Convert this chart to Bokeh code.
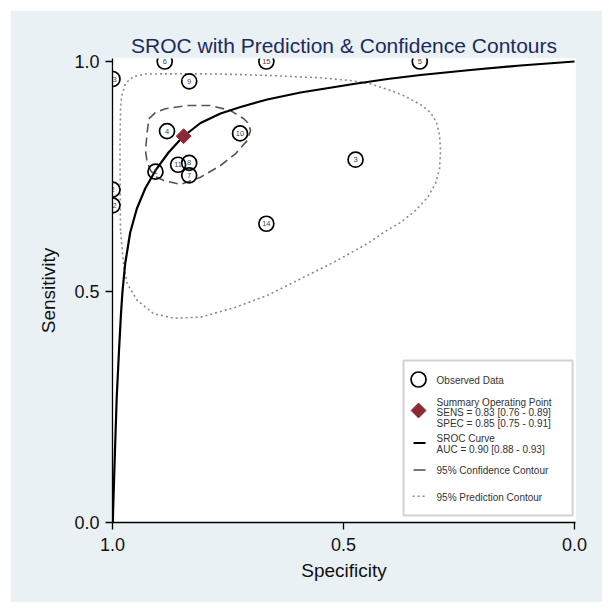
from bokeh.plotting import figure
from bokeh.models import Range1d, FixedTicker, BoxAnnotation, ColumnDataSource
from bokeh.embed import file_html
from bokeh.resources import INLINE
from bokeh.core.properties import value
import math

# ---------------- data ----------------
study_ids = ["1", "2", "3", "4", "5", "6", "7", "8", "9", "10", "11", "12", "13", "14", "15"]
study_spec = [0.907, 1.000, 0.474, 0.882, 0.335, 0.887, 0.834, 0.834, 0.834, 0.724, 0.858, 1.000, 1.000, 0.667, 0.667]
study_sens = [0.761, 0.722, 0.787, 0.849, 1.000, 1.000, 0.753, 0.780, 0.957, 0.844, 0.776, 0.688, 0.962, 0.648, 1.000]

summary_spec = [0.846]
summary_sens = [0.838]

sroc_spec = [0.9994, 0.9978, 0.9946, 0.9909, 0.9859, 0.9816, 0.9784, 0.9725, 0.9617, 0.9472, 0.9292, 0.9069,
             0.8788, 0.8470, 0.8095, 0.7662, 0.7229, 0.6652, 0.5931, 0.4784, 0.4048, 0.3333, 0.2251, 0.1169,
             0.0000]
sroc_sens = [0.0000, 0.0542, 0.1562, 0.2711, 0.3731, 0.4534, 0.5011, 0.5618, 0.6291, 0.6811, 0.7245, 0.7636,
             0.8026, 0.8373, 0.8666, 0.8872, 0.9013, 0.9176, 0.9328, 0.9512, 0.9620, 0.9707, 0.9816, 0.9913,
             1.0000]

conf_spec = [0.9214, 0.9069, 0.8853, 0.8383, 0.7879, 0.7446, 0.7158, 0.7056, 0.7013, 0.7084, 0.7338, 0.7662,
             0.8095, 0.8528, 0.8890, 0.9048, 0.9177, 0.9253, 0.9286, 0.9249, 0.9214]
conf_sens = [0.8757, 0.8894, 0.8974, 0.9046, 0.9046, 0.8937, 0.8757, 0.8655, 0.8503, 0.8286, 0.7998, 0.7744,
             0.7490, 0.7332, 0.7419, 0.7495, 0.7636, 0.7831, 0.8069, 0.8467, 0.8757]

pred_spec = [0.9827, 0.9838, 0.9827, 0.9805, 0.9719, 0.9545, 0.9286, 0.8528, 0.7662, 0.6580, 0.5498, 0.4848,
             0.4416, 0.3983, 0.3701, 0.3333, 0.3117, 0.2987, 0.2922, 0.2900, 0.2922, 0.3009, 0.3182, 0.3442,
             0.3766, 0.4128, 0.4487, 0.5210, 0.5931, 0.6652, 0.7374, 0.8095, 0.8673, 0.9106, 0.9465, 0.9682,
             0.9755, 0.9827]
pred_sens = [0.6334, 0.8069, 0.8937, 0.9241, 0.9523, 0.9675, 0.9729, 0.9733, 0.9729, 0.9696, 0.9646, 0.9588,
             0.9516, 0.9371, 0.9262, 0.9067, 0.8894, 0.8677, 0.8395, 0.8069, 0.7679, 0.7354, 0.7050, 0.6768,
             0.6508, 0.6297, 0.6046, 0.5646, 0.5286, 0.4924, 0.4657, 0.4453, 0.4432, 0.4527, 0.4816, 0.5184,
             0.5538, 0.6334]

tick_values = [0.0, 0.5, 1.0]
tick_labels = ["0.0", "0.5", "1.0"]

title_text = "SROC with Prediction & Confidence Contours"
legend_observed = "Observed Data"
legend_summary = ["Summary Operating Point", "SENS = 0.83 [0.76 - 0.89]", "SPEC = 0.85 [0.75 - 0.91]"]
legend_sroc = ["SROC Curve", "AUC = 0.90 [0.88 - 0.93]"]
legend_conf = "95% Confidence Contour"
legend_pred = "95% Prediction Contour"

# ---------------- figure ----------------
FONT = "Liberation Sans"
BG = "#e9f1f5"
MAROON = "#8c2a33"

p = figure(width=592, height=592, output_backend="svg", toolbar_location=None,
           x_range=Range1d(1.0, -0.002), y_range=Range1d(0.0, 1.0065),
           min_border_left=102, min_border_right=27, min_border_top=48, min_border_bottom=80,
           background_fill_color="white", border_fill_color=BG, outline_line_color=None)
p.margin = (10, 0, 0, 10)

p.title.text = title_text
p.title.align = "center"
p.title.text_font = FONT
p.title.text_font_size = "21px"
p.title.text_font_style = "normal"
p.title.text_color = "#1d2b5c"
p.title.standoff = 4

p.grid.visible = False
for ax, lab in ((p.xaxis, "Specificity"), (p.yaxis, "Sensitivity")):
    ax.axis_label = lab
    ax.axis_label_text_font = FONT
    ax.axis_label_text_font_size = "19px"
    ax.axis_label_text_font_style = "normal"
    ax.axis_label_text_color = "#111111"
    ax.major_label_text_font = FONT
    ax.major_label_text_font_size = "18px"
    ax.major_label_text_color = "#111111"
    ax.ticker = FixedTicker(ticks=tick_values)
    ax.major_label_overrides = dict(zip(tick_values, tick_labels))
    ax.major_tick_out = 7
    ax.major_tick_in = 0
    ax.minor_tick_line_color = None
    ax.axis_line_color = "black"
    ax.axis_line_width = 1.3
    ax.major_tick_line_width = 1.3
p.xaxis.major_label_standoff = 8
p.xaxis.axis_label_standoff = 6
p.yaxis.major_label_standoff = 6
p.yaxis.axis_label_standoff = 12

# prediction contour (dotted)
p.line(pred_spec, pred_sens, line_color="#8a8a8a", line_width=1.6, line_dash="2 3")
# confidence contour (dashed)
p.line(conf_spec, conf_sens, line_color="#555555", line_width=1.6, line_dash="9 5", line_join="round")
# SROC curve
p.line(sroc_spec, sroc_sens, line_color="black", line_width=2.2, line_join="round")

# observed studies
src = ColumnDataSource(dict(x=study_spec, y=study_sens, t=study_ids))
p.scatter("x", "y", source=src, marker="circle", size=15, fill_color=None,
          line_color="black", line_width=1.7)
p.text("x", "y", text="t", source=src, text_font=value(FONT), text_font_size="7.5px",
       text_color="#444444", text_align="center", text_baseline="middle")

# summary operating point
p.scatter(summary_spec, summary_sens, marker="square", angle=math.pi / 4, size=10.5,
          fill_color=MAROON, line_color=MAROON)

# ---------------- legend (layout in pixel space of the frame) ----------------
X0, X1, Y0, Y1 = 112.0, 574.0, 522.0, 61.0


def lx(px):
    return 1.0 - (px - X0) / (X1 - X0)


def ly(py):
    return (Y0 - py) / (Y0 - Y1)


p.add_layout(BoxAnnotation(left=lx(403), right=lx(572), top=ly(360), bottom=ly(515), level="underlay",
                           fill_color="white", fill_alpha=1.0, line_color="#6b6b6b", line_width=2))

p.scatter([lx(418)], [ly(379)], marker="circle", size=15, fill_color=None, line_color="black", line_width=1.7)
p.scatter([lx(418)], [ly(410)], marker="square", angle=math.pi / 4, size=10.5,
          fill_color=MAROON, line_color=MAROON)
p.line([lx(413), lx(425)], [ly(442.5), ly(442.5)], line_color="black", line_width=2)
p.line([lx(413), lx(425)], [ly(469.5), ly(469.5)], line_color="#555555", line_width=1.6)
p.line([lx(412), lx(424)], [ly(495.7), ly(495.7)], line_color="#8a8a8a", line_width=1.6, line_dash="2 3")

leg_texts = [legend_observed] + legend_summary + legend_sroc + [legend_conf, legend_pred]
leg_ys = [380, 401.7, 412.3, 422.7, 438.3, 449, 470, 496.7]
p.text([lx(436)] * len(leg_texts), [ly(v) for v in leg_ys], text=leg_texts,
       text_font=value(FONT), text_font_size="10px", text_color="#333333",
       text_align="left", text_baseline="middle")

open("out.html", "w").write(file_html(p, INLINE))
